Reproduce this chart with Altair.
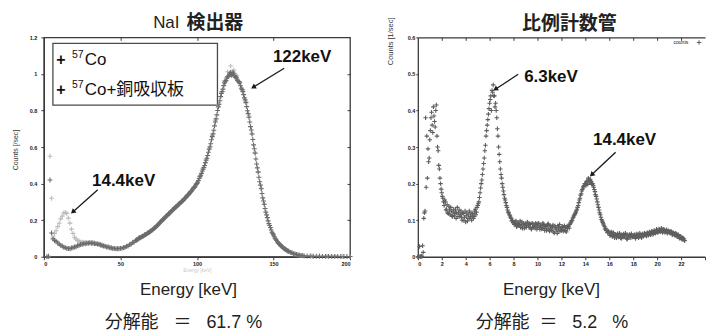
import altair as alt
import pandas as pd

# ------------------------------------------------------------------ data
# NaI detector: 57Co + copper absorber (darker points)
nai_cu_energy = [
    2, 3, 4, 5, 6, 7, 8, 9, 10, 11, 12, 13, 14, 15, 16, 17, 18, 19, 20, 21,
    22, 23, 24, 25, 26, 27, 28, 29, 30, 31, 32, 33, 34, 35, 36, 37, 38, 39, 40, 41,
    42, 43, 44, 45, 46, 47, 48, 49, 50, 51, 52, 53, 54, 55, 56, 57, 58, 59, 60, 61,
    62, 63, 64, 65, 66, 67, 68, 69, 70, 71, 72, 73, 74, 75, 76, 77, 78, 79, 80, 81,
    82, 83, 84, 85, 86, 87, 88, 89, 90, 91, 92, 93, 94, 95, 96, 97, 98, 99, 100, 101,
    102, 103, 104, 105, 106, 107, 108, 109, 110, 111, 112, 113, 114, 115, 116, 117, 118, 119, 120, 121,
    122, 123, 124, 125, 126, 127, 128, 129, 130, 131, 132, 133, 134, 135, 136, 137, 138, 139, 140, 141,
    142, 143, 144, 145, 146, 147, 148, 149, 150, 151, 152, 153, 154, 155, 156, 157, 158, 159, 160, 161,
    162, 163, 164, 165, 166, 167, 168, 169, 170,
    172, 174, 176, 178, 180, 182, 184, 186, 188, 190, 192, 194, 196, 198, 200,
]
nai_cu_counts = [
    0.000, 0.003, 0.420, 0.130, 0.098, 0.089, 0.084, 0.075, 0.070, 0.062, 0.059, 0.052, 0.050, 0.045, 0.045, 0.044, 0.048, 0.049, 0.053, 0.055,
    0.060, 0.062, 0.067, 0.068, 0.071, 0.071, 0.074, 0.073, 0.076, 0.074, 0.075, 0.072, 0.072, 0.069, 0.068, 0.064, 0.063, 0.058, 0.058, 0.053,
    0.053, 0.049, 0.049, 0.045, 0.046, 0.043, 0.045, 0.044, 0.046, 0.046, 0.050, 0.051, 0.057, 0.059, 0.066, 0.069, 0.077, 0.081, 0.089, 0.093,
    0.101, 0.103, 0.110, 0.113, 0.120, 0.124, 0.131, 0.134, 0.142, 0.147, 0.156, 0.161, 0.171, 0.178, 0.189, 0.196, 0.206, 0.212, 0.223, 0.229,
    0.239, 0.245, 0.256, 0.262, 0.271, 0.277, 0.287, 0.292, 0.302, 0.308, 0.319, 0.326, 0.337, 0.345, 0.357, 0.365, 0.378, 0.387, 0.401, 0.417,
    0.438, 0.456, 0.479, 0.499, 0.528, 0.554, 0.588, 0.618, 0.657, 0.692, 0.737, 0.776, 0.820, 0.853, 0.893, 0.917, 0.951, 0.965, 0.985, 0.992,
    1.008, 0.998, 1.001, 0.982, 0.978, 0.957, 0.950, 0.922, 0.903, 0.869, 0.843, 0.799, 0.763, 0.712, 0.671, 0.612, 0.566, 0.507, 0.463, 0.410,
    0.372, 0.322, 0.287, 0.244, 0.214, 0.181, 0.160, 0.134, 0.119, 0.101, 0.090, 0.076, 0.069, 0.058, 0.053, 0.044, 0.040, 0.033, 0.030, 0.024,
    0.022, 0.017, 0.015, 0.012, 0.010, 0.008, 0.007, 0.006, 0.005,
    0.004, 0.004, 0.003, 0.003, 0.003, 0.002, 0.002, 0.002, 0.002, 0.002, 0.002, 0.001, 0.001, 0.001, 0.001,
]
# extra (half-keV) channels of the same series
nai_cu_energy_b = [
    60.5, 61.5, 62.5, 63.5, 64.5, 65.5, 66.5, 67.5, 68.5, 69.5,
    70.5, 71.5, 72.5, 73.5, 74.5, 75.5, 76.5, 77.5, 78.5, 79.5,
    80.5, 81.5, 82.5, 83.5, 84.5, 85.5, 86.5, 87.5, 88.5, 89.5,
    90.5, 91.5, 92.5, 93.5, 94.5, 95.5, 96.5, 97.5, 98.5, 99.5,
    100.5, 101.5, 102.5, 103.5, 104.5, 105.5, 106.5, 107.5, 108.5, 109.5,
    110.5, 111.5, 112.5, 113.5, 114.5, 115.5, 116.5, 117.5, 118.5, 119.5,
    120.5, 121.5, 122.5, 123.5, 124.5, 125.5, 126.5, 127.5, 128.5, 129.5,
    130.5, 131.5, 132.5, 133.5, 134.5, 135.5, 136.5, 137.5, 138.5, 139.5,
    140.5, 141.5, 142.5, 143.5, 144.5, 145.5, 146.5, 147.5, 148.5, 149.5,
    150.5, 151.5, 152.5, 153.5, 154.5, 155.5, 156.5, 157.5, 158.5, 159.5,
]
nai_cu_counts_b = [
    0.092, 0.096, 0.104, 0.106, 0.113, 0.116, 0.121, 0.128, 0.132, 0.139,
    0.144, 0.152, 0.158, 0.167, 0.174, 0.184, 0.192, 0.202, 0.208, 0.219,
    0.225, 0.235, 0.241, 0.251, 0.258, 0.268, 0.273, 0.283, 0.289, 0.298,
    0.304, 0.315, 0.321, 0.333, 0.340, 0.352, 0.360, 0.373, 0.381, 0.396,
    0.408, 0.428, 0.446, 0.469, 0.488, 0.515, 0.539, 0.572, 0.601, 0.640,
    0.672, 0.716, 0.754, 0.800, 0.834, 0.876, 0.903, 0.936, 0.957, 0.978,
    0.986, 1.004, 0.992, 1.010, 0.989, 0.984, 0.965, 0.958, 0.935, 0.914,
    0.887, 0.858, 0.821, 0.783, 0.737, 0.693, 0.641, 0.591, 0.535, 0.486,
    0.435, 0.392, 0.346, 0.305, 0.264, 0.229, 0.196, 0.171, 0.146, 0.127,
    0.109, 0.096, 0.082, 0.073, 0.063, 0.056, 0.048, 0.042, 0.036, 0.031,
]

# NaI detector: 57Co only (lighter points)
nai_energy = [
    3, 4, 5, 6, 7, 8, 9, 10, 11, 12, 13, 14, 15, 16, 17, 18, 19, 20, 21, 22,
    23, 24, 25, 26, 27, 28, 29, 30, 31, 32, 33, 34, 35, 36, 37, 38, 39, 40,
    42, 44, 46, 48, 50, 52, 54, 56, 58, 60, 62, 64, 66, 68, 70, 72, 74, 76, 78, 80,
    82, 84, 86, 88, 90, 92, 94, 96, 98, 100, 102, 104, 106, 108, 110, 112, 114, 116, 118, 120,
    122, 124, 126, 128, 130, 132, 134, 136, 138, 140, 142, 144, 146, 148, 150, 152, 154, 156, 158, 160,
    162, 164, 166, 168, 170,
    175, 180, 185, 190, 195, 200,
]
nai_counts = [
    0.000, 0.550, 0.320, 0.108, 0.127, 0.142, 0.165, 0.183, 0.207, 0.222, 0.240, 0.242, 0.237, 0.211, 0.184, 0.151, 0.128, 0.107, 0.098, 0.088,
    0.085, 0.080, 0.080, 0.077, 0.078, 0.076, 0.078, 0.077, 0.078, 0.075, 0.076, 0.072, 0.072, 0.068, 0.067, 0.062, 0.061, 0.057,
    0.054, 0.048, 0.047, 0.044, 0.047, 0.049, 0.058, 0.065, 0.079, 0.089, 0.103, 0.111, 0.122, 0.131, 0.144, 0.156, 0.173, 0.189, 0.208, 0.223,
    0.241, 0.256, 0.273, 0.287, 0.304, 0.320, 0.340, 0.358, 0.381, 0.402, 0.442, 0.481, 0.533, 0.591, 0.664, 0.744, 0.832, 0.901, 0.962, 1.012,
    1.043, 1.021, 0.993, 0.953, 0.912, 0.848, 0.770, 0.673, 0.571, 0.464, 0.374, 0.287, 0.215, 0.159, 0.121, 0.089, 0.070, 0.052, 0.041, 0.030,
    0.023, 0.015, 0.011, 0.007, 0.005,
    0.004, 0.003, 0.002, 0.002, 0.001, 0.001,
]

# Proportional counter
pc_energy = [
    0.0, 0.1, 0.2, 0.3, 0.4, 0.5, 0.6, 0.7, 0.8, 0.9,
    1.0, 1.1, 1.2, 1.3, 1.4, 1.5, 1.6, 1.7, 1.8, 1.9,
    2.0, 2.1, 2.2, 2.3, 2.4, 2.5, 2.6, 2.7, 2.8, 2.9,
    3.0, 3.1, 3.2, 3.3, 3.4, 3.5, 3.6, 3.7, 3.8, 3.9,
    4.0, 4.1, 4.2, 4.3, 4.4, 4.5, 4.6, 4.7, 4.8, 4.9,
    5.0, 5.1, 5.2, 5.3, 5.4, 5.5, 5.6, 5.7, 5.8, 5.9,
    6.0, 6.1, 6.2, 6.3, 6.4, 6.5, 6.6, 6.7, 6.8, 6.9,
    7.0, 7.1, 7.2, 7.3, 7.4, 7.5, 7.6, 7.7, 7.8, 7.9,
    8.0, 8.1, 8.2, 8.3, 8.4, 8.5, 8.6, 8.7, 8.8, 8.9,
    9.0, 9.1, 9.2, 9.3, 9.4, 9.5, 9.6, 9.7, 9.8, 9.9,
    10.0, 10.1, 10.2, 10.3, 10.4, 10.5, 10.6, 10.7, 10.8, 10.9,
    11.0, 11.1, 11.2, 11.3, 11.4, 11.5, 11.6, 11.7, 11.8, 11.9,
    12.0, 12.1, 12.2, 12.3, 12.4, 12.5, 12.6, 12.7, 12.8, 12.9,
    13.0, 13.1, 13.2, 13.3, 13.4, 13.5, 13.6, 13.7, 13.8, 13.9,
    14.0, 14.1, 14.2, 14.3, 14.4, 14.5, 14.6, 14.7, 14.8, 14.9,
    15.0, 15.1, 15.2, 15.3, 15.4, 15.5, 15.6, 15.7, 15.8, 15.9,
    16.0, 16.1, 16.2, 16.3, 16.4, 16.5, 16.6, 16.7, 16.8, 16.9,
    17.0, 17.1, 17.2, 17.3, 17.4, 17.5, 17.6, 17.7, 17.8, 17.9,
    18.0, 18.1, 18.2, 18.3, 18.4, 18.5, 18.6, 18.7, 18.8, 18.9,
    19.0, 19.1, 19.2, 19.3, 19.4, 19.5, 19.6, 19.7, 19.8, 19.9,
    20.0, 20.1, 20.2, 20.3, 20.4, 20.5, 20.6, 20.7, 20.8, 20.9,
    21.0, 21.1, 21.2, 21.3, 21.4, 21.5, 21.6, 21.7, 21.8, 21.9,
    22.0, 22.1, 22.2, 22.3,
]
pc_counts = [
    0.000, 0.001, 0.000, 0.002, 0.030, 0.105, 0.125, 0.190, 0.215, 0.260,
    0.320, 0.380, 0.360, 0.410, 0.370, 0.400, 0.330, 0.290, 0.240, 0.200,
    0.175, 0.160, 0.140, 0.150, 0.130, 0.120, 0.138, 0.115, 0.125, 0.110,
    0.130, 0.118, 0.105, 0.135, 0.120, 0.110, 0.125, 0.100, 0.118, 0.108,
    0.095, 0.120, 0.105, 0.125, 0.110, 0.100, 0.118, 0.110, 0.130, 0.122,
    0.140, 0.150, 0.175, 0.200, 0.225, 0.255, 0.290, 0.330, 0.360, 0.390,
    0.420, 0.440, 0.455, 0.470, 0.440, 0.420, 0.380, 0.330, 0.280, 0.240,
    0.215, 0.190, 0.170, 0.155, 0.140, 0.128, 0.120, 0.112, 0.105, 0.100,
    0.095, 0.090, 0.098, 0.085, 0.092, 0.088, 0.080, 0.095, 0.087, 0.078,
    0.090, 0.085, 0.092, 0.080, 0.088, 0.075, 0.090, 0.083, 0.078, 0.088,
    0.082, 0.092, 0.075, 0.085, 0.079, 0.088, 0.072, 0.083, 0.078, 0.090,
    0.070, 0.082, 0.076, 0.087, 0.065, 0.080, 0.074, 0.085, 0.070, 0.078,
    0.072, 0.083, 0.075, 0.080, 0.068, 0.078, 0.082, 0.088, 0.095, 0.100,
    0.108, 0.115, 0.122, 0.130, 0.140, 0.155, 0.168, 0.180, 0.188, 0.195,
    0.200, 0.205, 0.198, 0.210, 0.212, 0.205, 0.200, 0.190, 0.178, 0.165,
    0.150, 0.135, 0.120, 0.108, 0.098, 0.090, 0.082, 0.078, 0.072, 0.068,
    0.065, 0.060, 0.068, 0.056, 0.062, 0.058, 0.052, 0.063, 0.055, 0.060,
    0.050, 0.058, 0.062, 0.054, 0.060, 0.048, 0.057, 0.061, 0.052, 0.058,
    0.055, 0.060, 0.050, 0.058, 0.062, 0.055, 0.060, 0.052, 0.063, 0.058,
    0.062, 0.057, 0.065, 0.060, 0.066, 0.062, 0.068, 0.064, 0.070, 0.066,
    0.072, 0.068, 0.074, 0.070, 0.076, 0.070, 0.073, 0.068, 0.074, 0.066,
    0.070, 0.064, 0.068, 0.060, 0.064, 0.058, 0.062, 0.055, 0.058, 0.050,
    0.054, 0.047, 0.050, 0.044,
]
# interleaved channels of the same spectrum
pc_energy_b = [
    0.05, 0.15, 0.25, 0.35, 0.45, 0.55, 0.65, 0.75, 0.85, 0.95,
    1.05, 1.15, 1.25, 1.35, 1.45, 1.55, 1.65, 1.75, 1.85, 1.95,
    2.05, 2.15, 2.25, 2.35, 2.45, 2.55, 2.65, 2.75, 2.85, 2.95,
    3.05, 3.15, 3.25, 3.35, 3.45, 3.55, 3.65, 3.75, 3.85, 3.95,
    4.05, 4.15, 4.25, 4.35, 4.45, 4.55, 4.65, 4.75, 4.85, 4.95,
    5.05, 5.15, 5.25, 5.35, 5.45, 5.55, 5.65, 5.75, 5.85, 5.95,
    6.05, 6.15, 6.25, 6.35, 6.45, 6.55, 6.65, 6.75, 6.85, 6.95,
    7.05, 7.15, 7.25, 7.35, 7.45, 7.55, 7.65, 7.75, 7.85, 7.95,
    8.05, 8.15, 8.25, 8.35, 8.45, 8.55, 8.65, 8.75, 8.85, 8.95,
    9.05, 9.15, 9.25, 9.35, 9.45, 9.55, 9.65, 9.75, 9.85, 9.95,
    10.05, 10.15, 10.25, 10.35, 10.45, 10.55, 10.65, 10.75, 10.85, 10.95,
    11.05, 11.15, 11.25, 11.35, 11.45, 11.55, 11.65, 11.75, 11.85, 11.95,
    12.05, 12.15, 12.25, 12.35, 12.45, 12.55, 12.65, 12.75, 12.85, 12.95,
    13.05, 13.15, 13.25, 13.35, 13.45, 13.55, 13.65, 13.75, 13.85, 13.95,
    14.05, 14.15, 14.25, 14.35, 14.45, 14.55, 14.65, 14.75, 14.85, 14.95,
    15.05, 15.15, 15.25, 15.35, 15.45, 15.55, 15.65, 15.75, 15.85, 15.95,
    16.05, 16.15, 16.25, 16.35, 16.45, 16.55, 16.65, 16.75, 16.85, 16.95,
    17.05, 17.15, 17.25, 17.35, 17.45, 17.55, 17.65, 17.75, 17.85, 17.95,
    18.05, 18.15, 18.25, 18.35, 18.45, 18.55, 18.65, 18.75, 18.85, 18.95,
    19.05, 19.15, 19.25, 19.35, 19.45, 19.55, 19.65, 19.75, 19.85, 19.95,
    20.05, 20.15, 20.25, 20.35, 20.45, 20.55, 20.65, 20.75, 20.85, 20.95,
    21.05, 21.15, 21.25, 21.35, 21.45, 21.55, 21.65, 21.75, 21.85, 21.95,
    22.05, 22.15, 22.25,
]
pc_counts_b = [
    0.000, 0.028, 0.000, 0.001, 0.012, 0.120, 0.380, 0.330, 0.295, 0.270,
    0.345, 0.395, 0.340, 0.385, 0.355, 0.415, 0.300, 0.250, 0.215, 0.185,
    0.165, 0.150, 0.155, 0.128, 0.142, 0.118, 0.128, 0.135, 0.112, 0.122,
    0.112, 0.128, 0.120, 0.110, 0.128, 0.115, 0.108, 0.120, 0.100, 0.125,
    0.112, 0.098, 0.115, 0.105, 0.120, 0.112, 0.105, 0.125, 0.115, 0.135,
    0.145, 0.162, 0.188, 0.210, 0.240, 0.270, 0.305, 0.345, 0.375, 0.405,
    0.430, 0.400, 0.450, 0.440, 0.410, 0.400, 0.350, 0.300, 0.260, 0.225,
    0.200, 0.180, 0.160, 0.148, 0.135, 0.122, 0.115, 0.108, 0.098, 0.093,
    0.088, 0.095, 0.082, 0.090, 0.085, 0.098, 0.088, 0.078, 0.092, 0.084,
    0.080, 0.095, 0.085, 0.090, 0.078, 0.092, 0.080, 0.086, 0.092, 0.075,
    0.090, 0.080, 0.086, 0.076, 0.092, 0.078, 0.085, 0.072, 0.088, 0.076,
    0.085, 0.072, 0.082, 0.068, 0.084, 0.076, 0.064, 0.080, 0.088, 0.072,
    0.080, 0.070, 0.085, 0.072, 0.082, 0.085, 0.078, 0.092, 0.098, 0.106,
    0.112, 0.118, 0.126, 0.135, 0.148, 0.160, 0.172, 0.184, 0.192, 0.200,
    0.195, 0.208, 0.215, 0.202, 0.207, 0.198, 0.195, 0.184, 0.170, 0.158,
    0.142, 0.128, 0.115, 0.102, 0.094, 0.086, 0.075, 0.072, 0.066, 0.070,
    0.058, 0.064, 0.055, 0.066, 0.052, 0.061, 0.058, 0.054, 0.064, 0.052,
    0.060, 0.053, 0.057, 0.064, 0.050, 0.060, 0.052, 0.058, 0.063, 0.054,
    0.058, 0.053, 0.062, 0.056, 0.052, 0.064, 0.055, 0.061, 0.056, 0.064,
    0.059, 0.066, 0.058, 0.068, 0.060, 0.070, 0.061, 0.072, 0.064, 0.075,
    0.066, 0.076, 0.068, 0.078, 0.066, 0.075, 0.066, 0.072, 0.064, 0.071,
    0.066, 0.070, 0.061, 0.066, 0.060, 0.064, 0.056, 0.061, 0.052, 0.056,
    0.049, 0.052, 0.046,
]

# axis ticks
nai_xticks = [0, 50, 100, 150, 200]
nai_yticks = [0, 0.2, 0.4, 0.6, 0.8, 1.0, 1.2]
pc_xticks = [0, 2, 4, 6, 8, 10, 12, 14, 16, 18, 20, 22, 24]
pc_yticks = [0, 0.1, 0.2, 0.3, 0.4, 0.5, 0.6]

# texts
NB = "\u00a0"
nai_title = ["NaI", "検出器"]
pc_title = ["比例計数管"]
x_title = ["Energy [keV]"]
nai_resolution = ["分解能" + NB * 3 + "＝" + NB * 3 + "61.7" + NB + "%"]
pc_resolution = ["分解能" + NB * 2 + "＝" + NB * 3 + "5.2" + NB * 3 + "%"]
nai_ytitle = ["Counts [/sec]"]
pc_ytitle = ["Counts [1/sec]"]

# in-plot legend of the NaI panel (data units)
nai_legend_mark = ["+", "+"]
nai_legend_sup = ["57", "57"]
nai_legend_label = ["Co", "Co+銅吸収板"]
nai_legend_y = [1.075, 0.911]
nai_legend_mark_x = [11.1, 11.1]
nai_legend_sup_x = [18.4, 18.4]
nai_legend_label_x = [26.7, 26.7]
nai_legend_box = {"x0": [5.9], "x1": [113.4], "y0": [1.167], "y1": [0.829]}

# peak annotations (data units)
nai_peak_text = ["122keV", "14.4keV"]
nai_peak_x = [168.7, 52.1]
nai_peak_y = [1.091, 0.415]
nai_arrow_from_x = [157.0, 35.2]
nai_arrow_from_y = [1.031, 0.366]
nai_arrow_to_x = [136.8, 18.9]
nai_arrow_to_y = [0.927, 0.245]

pc_peak_text = ["6.3keV", "14.4keV"]
pc_peak_x = [11.13, 17.28]
pc_peak_y = [0.491, 0.319]
pc_arrow_from_x = [8.39, 16.53]
pc_arrow_from_y = [0.499, 0.286]
pc_arrow_to_x = [6.48, 14.53]
pc_arrow_to_y = [0.458, 0.224]
pc_legend_text = ["counts"]

# ------------------------------------------------------------------ style
AX = "#3a3a3a"
FONT = "Liberation Sans, Noto Sans CJK JP, sans-serif"
PLUS = "M-1,0L1,0M0,-1L0,1"

LW, LH = 307, 220
RW, RH = 288, 220


def ax(**kw):
    base = dict(title=None, grid=False, labelFontSize=5.5, labelFontWeight="bold",
                labelColor="#222", labelFont=FONT, domainColor=AX, domainWidth=1.3,
                tickColor=AX, tickWidth=1, tickSize=3)
    base.update(kw)
    return alt.Axis(**base)


def one(text):
    return alt.Chart(pd.DataFrame({"t": text}))


def scatter(df, color, xs, ys, size=24):
    return alt.Chart(df).mark_point(shape=PLUS, filled=False, size=size, strokeWidth=1.1,
                                    color=color, opacity=1).encode(
        x=alt.X("E:Q", scale=xs, axis=None),
        y=alt.Y("C:Q", scale=ys, axis=None))


def axis_layer(xs, ys, xaxis, yaxis):
    return alt.Chart(pd.DataFrame({"x": [0], "y": [0]})).mark_point(opacity=0).encode(
        x=alt.X("x:Q", scale=xs, axis=xaxis), y=alt.Y("y:Q", scale=ys, axis=yaxis))


def arrows(fx, fy, tx, ty, xs, ys, angles):
    adf = pd.DataFrame({"x": fx, "y": fy, "x2": tx, "y2": ty})
    layers = [alt.Chart(adf).mark_rule(color="#1a1a1a", strokeWidth=1.3).encode(
        x=alt.X("x:Q", scale=xs, axis=None), y=alt.Y("y:Q", scale=ys, axis=None),
        x2="x2:Q", y2="y2:Q")]
    for i, a in enumerate(angles):
        layers.append(alt.Chart(adf.iloc[[i]]).mark_point(
            shape="triangle-up", filled=True, size=32, angle=a, color="#1a1a1a", opacity=1).encode(
            x=alt.X("x2:Q", scale=xs, axis=None), y=alt.Y("y2:Q", scale=ys, axis=None)))
    return layers


def data_text(txt, xv, yv, xs, ys, **kw):
    return alt.Chart(pd.DataFrame({"t": txt, "x": xv, "y": yv})).mark_text(
        font=FONT, color="#111", baseline="middle", **kw).encode(
        x=alt.X("x:Q", scale=xs, axis=None), y=alt.Y("y:Q", scale=ys, axis=None), text="t:N")


def bottom_texts(cx_title, cx_res, h, xtitle, res):
    a = one(xtitle).mark_text(font=FONT, fontSize=17, color="#222", align="center",
                              baseline="middle").encode(
        text="t:N", x=alt.value(cx_title), y=alt.value(h + 33))
    b = one(res).mark_text(font=FONT, fontSize=18, color="#222", align="center",
                           baseline="middle").encode(
        text="t:N", x=alt.value(cx_res), y=alt.value(h + 66))
    return [a, b]


# ------------------------------------------------------------------ left panel
nai_df = pd.DataFrame({"E": nai_energy, "C": nai_counts})
nai_cu_df = pd.concat([pd.DataFrame({"E": nai_cu_energy, "C": nai_cu_counts}),
                       pd.DataFrame({"E": nai_cu_energy_b, "C": nai_cu_counts_b})])
lx = alt.Scale(domain=[0, 200], nice=False, zero=False)
ly = alt.Scale(domain=[0, 1.2], nice=False, zero=False)

box = alt.Chart(pd.DataFrame(nai_legend_box)).mark_rect(
    fill="white", stroke="#4a4a4a", strokeWidth=1.3).encode(
    x=alt.X("x0:Q", scale=lx, axis=None), x2="x1:Q",
    y=alt.Y("y0:Q", scale=ly, axis=None), y2="y1:Q")
leg_mark = data_text(nai_legend_mark, nai_legend_mark_x, nai_legend_y, lx, ly,
                     fontSize=16, fontWeight="bold", align="center")
leg_sup = data_text(nai_legend_sup, nai_legend_sup_x, nai_legend_y, lx, ly,
                    fontSize=10.5, align="left", dy=-5)
leg_label = data_text(nai_legend_label, nai_legend_label_x, nai_legend_y, lx, ly,
                      fontSize=17, align="left")

light = scatter(nai_df, "#bcbcbc", lx, ly)
dark = scatter(nai_cu_df, "#6c6c6c", lx, ly)

l_title_a = one(nai_title[:1]).mark_text(font=FONT, fontSize=17, color="#222", align="right",
                                         baseline="middle").encode(
    text="t:N", x=alt.value(136), y=alt.value(-14))
l_title_b = one(nai_title[1:]).mark_text(font=FONT, fontSize=19, fontWeight="bold", color="#222",
                                         align="left", baseline="middle").encode(
    text="t:N", x=alt.value(143), y=alt.value(-14))
l_ytitle = one(nai_ytitle).mark_text(font=FONT, fontSize=7, color="#333", angle=270,
                                     align="center", baseline="middle").encode(
    text="t:N", x=alt.value(-28), y=alt.value(113))
l_ghost = one(x_title).mark_text(font=FONT, fontSize=5, color="#c8c8c8", align="center",
                                 baseline="middle").encode(
    text="t:N", x=alt.value(154), y=alt.value(LH + 13))

left_inner = alt.layer(
    box, light, dark, leg_mark, leg_sup, leg_label,
    data_text(nai_peak_text, nai_peak_x, nai_peak_y, lx, ly, fontSize=17, fontWeight="bold",
              align="center"),
    *arrows(nai_arrow_from_x, nai_arrow_from_y, nai_arrow_to_x, nai_arrow_to_y, lx, ly, [238.5, 228.7]),
    l_title_a, l_title_b, l_ytitle, l_ghost,
    *bottom_texts(145, 140, LH, x_title, nai_resolution),
)
left_axes = axis_layer(lx, ly,
                       ax(values=nai_xticks, labelPadding=2),
                       ax(values=nai_yticks, format="~g", labelPadding=4))
left_frame = axis_layer(lx, ly,
                        ax(orient="top", values=[50, 100, 150], labels=False, domain=False, offset=-3),
                        ax(orient="right", values=[0.2, 0.4, 0.6, 0.8, 1.0], labels=False,
                           domain=False, offset=-3))
left = alt.layer(left_inner, left_axes, left_frame).resolve_scale(
    x="independent", y="independent").properties(
    width=LW, height=LH, view=alt.ViewBackground(stroke=AX, strokeWidth=1.3))

# ------------------------------------------------------------------ right panel
pc_df = pd.concat([pd.DataFrame({"E": pc_energy, "C": pc_counts}),
                   pd.DataFrame({"E": pc_energy_b, "C": pc_counts_b})])
rx = alt.Scale(domain=[0, 24], nice=False, zero=False)
ry = alt.Scale(domain=[0, 0.6], nice=False, zero=False)

pc_points = scatter(pc_df, "#5e5e5e", rx, ry, size=20)

r_title = one(pc_title).mark_text(font=FONT, fontSize=19, fontWeight="bold", color="#222",
                                  align="center", baseline="middle").encode(
    text="t:N", x=alt.value(152), y=alt.value(-13))
r_ytitle = one(pc_ytitle).mark_text(font=FONT, fontSize=7.5, color="#333", angle=270,
                                    align="center", baseline="middle").encode(
    text="t:N", x=alt.value(-27), y=alt.value(4))
r_leg_text = data_text(pc_legend_text, [22.6], [0.586], rx, ry, fontSize=5, align="right")
r_leg_mark = alt.Chart(pd.DataFrame({"x": [23.5], "y": [0.586]})).mark_point(
    shape=PLUS, filled=False, size=20, strokeWidth=1, color="#5e5e5e", opacity=1).encode(
    x=alt.X("x:Q", scale=rx, axis=None), y=alt.Y("y:Q", scale=ry, axis=None))

right_inner = alt.layer(
    pc_points,
    data_text(pc_peak_text, pc_peak_x, pc_peak_y, rx, ry, fontSize=17, fontWeight="bold",
              align="center"),
    *arrows(pc_arrow_from_x, pc_arrow_from_y, pc_arrow_to_x, pc_arrow_to_y, rx, ry, [236.9, 226.2]),
    r_title, r_ytitle, r_leg_text, r_leg_mark,
    *bottom_texts(134, 134.5, RH, x_title, pc_resolution),
)
right_axes = axis_layer(rx, ry,
                        ax(values=pc_xticks, labelPadding=2,
                           labelExpr="datum.value == 24 ? '' : datum.label"),
                        ax(values=pc_yticks, format="~g", labelPadding=1, tickSize=2))
right_top_line = axis_layer(rx, ry, ax(orient="top", ticks=False, labels=False, domain=True), None)
right_top_ticks = axis_layer(rx, ry, ax(orient="top", values=pc_xticks[1:-1], labels=False,
                                        domain=False, offset=-3), None)
right = alt.layer(right_inner, right_axes, right_top_line, right_top_ticks).resolve_scale(
    x="independent", y="independent").properties(
    width=RW, height=RH, view=alt.ViewBackground(stroke="transparent"))

chart = alt.hconcat(left, right, spacing=68, bounds="flush").properties(
    padding={"left": 11, "top": 13, "right": 0, "bottom": 0},
    background="white",
).configure_view(strokeWidth=1.3)

chart.save("out.html", embed_options={"renderer": "svg", "actions": False})
